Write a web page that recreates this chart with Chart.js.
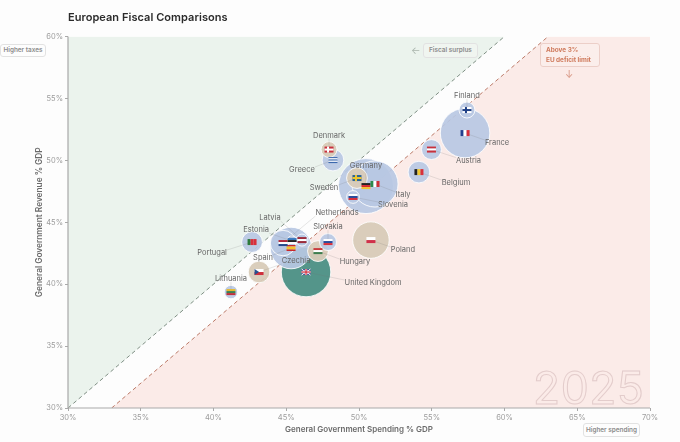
<!DOCTYPE html>
<html>
<head>
<meta charset="utf-8">
<title>European Fiscal Comparisons</title>
<script src="https://cdn.jsdelivr.net/npm/chart.js@4"></script>
<style>
  html, body { margin: 0; padding: 0; background: #fdfdfd; }
  body { width: 680px; height: 442px; position: relative; overflow: hidden; font-family: Inter, sans-serif; }
  canvas { position: absolute; left: 0; top: 0; }
  .title { position: absolute; left: 68px; top: 10px; font-size: 11px; font-weight: 600; color: #2b2b2b; letter-spacing: 0.05px; }
  .badge { position: absolute; box-sizing: border-box; border: 1px solid #e2e2e2; border-radius: 3px; background: #fdfdfd; color: #8c8c8c; font-size: 6.4px; font-weight: 600; text-align: center; }
  .arrow { position: absolute; font-size: 10px; line-height: 10px; }
  .year { position: absolute; left: 533px; top: 363px; font-size: 44.5px; line-height: 50px; font-weight: 400; color: transparent; -webkit-text-stroke: 1px #e3cccb; letter-spacing: 0.5px; }
</style>
</head>
<body>
<canvas id="chart" width="680" height="442"></canvas>
<div class="title">European Fiscal Comparisons</div>
<div class="badge" style="left:0;top:44px;width:46px;height:13px;line-height:11px">Higher taxes</div>
<div class="badge" style="left:583px;top:423px;width:57px;height:14px;line-height:12px">Higher spending</div>
<div class="badge" style="left:423px;top:43px;width:55px;height:15px;line-height:12px;background:#f0f5f0">Fiscal surplus</div>
<div class="arrow" style="left:411px;top:45px;color:#aab5ad">←</div>
<div class="badge" style="left:540px;top:43px;width:60px;height:24px;padding:2px 0 0 5px;line-height:9.5px;text-align:left;font-weight:700;color:#cf7a5c;border-color:#eccfc8;background:#fbeeeb">Above 3%<br>EU deficit limit</div>
<div class="arrow" style="left:565px;top:69px;color:#d99a88">↓</div>
<div class="year">2025</div>

<script>
// =====================
// DATA
// =====================
// largest first so the small bubbles stay on top
const countries = ["Germany", "France", "United Kingdom", "Italy", "Spain", "Poland", "Netherlands", "Belgium", "Sweden", "Czechia", "Greece", "Portugal", "Hungary", "Austria", "Denmark", "Finland", "Slovakia", "Lithuania", "Latvia", "Estonia", "Slovenia"];
const spending = [50.48, 57.29, 46.36, 51.1, 45.33, 50.82, 44.78, 54.12, 49.86, 43.13, 48.21, 42.65, 47.18, 54.98, 47.94, 57.42, 47.87, 41.2, 46.08, 45.4, 49.59];
const revenue = [47.92, 52.2, 40.98, 48.09, 42.92, 43.56, 43.32, 49.05, 48.57, 40.98, 50.02, 43.4, 42.67, 50.87, 50.87, 54.06, 43.4, 39.36, 43.56, 43.48, 47.04];
const population = [84, 68, 68, 59, 48, 37, 18, 13, 12, 13, 13, 12, 12, 11, 7, 7, 8, 5, 4, 3, 4.5];
const groups = ["euro", "euro", "noneu", "euro", "euro", "noneuro", "euro", "euro", "noneuro", "noneuro", "euro", "euro", "noneuro", "euro", "noneuro", "euro", "euro", "euro", "euro", "euro", "euro"];

const surplusLineX = [30, 60];
const surplusLineY = [30, 60];
const deficitLineX = [33, 63];
const deficitLineY = [30, 60];
const xTicks = [30, 35, 40, 45, 50, 55, 60, 65, 70];
const yTicks = [30, 35, 40, 45, 50, 55, 60];

// =====================
// STYLE TABLES
// =====================
const groupColors = {
  euro: "rgba(184, 200, 227, 0.92)",
  noneuro: "rgba(216, 203, 184, 0.95)",
  noneu: "rgba(78, 146, 134, 0.97)"
};

// label offset from the flag, pixels
const labelOffsets = {
  "Finland": [0, -14], "France": [32, 10], "Austria": [37, 11], "Belgium": [37, 11],
  "Germany": [0, -20], "Italy": [28, 11], "Sweden": [-33, 10], "Slovenia": [40, 8],
  "Denmark": [0, -14], "Greece": [-31, 10], "Poland": [32, 10], "United Kingdom": [67, 11],
  "Hungary": [37, 11], "Slovakia": [0, -15], "Netherlands": [54, -30], "Estonia": [-36, -11],
  "Latvia": [-32, -22], "Spain": [-28, 10], "Portugal": [-40, 11], "Czechia": [37, -11],
  "Lithuania": [0, -13]
};

// simple stripes; "v" = vertical bands, "h" = horizontal bands
const flags = {
  "Germany": ["h", "#222", "#d8262c", "#f2c230"], "France": ["v", "#23408f", "#fff", "#d8303c"],
  "United Kingdom": ["uk"], "Italy": ["v", "#2c8a4c", "#fff", "#cf3038"],
  "Spain": ["h", "#c8282c", "#f2c230", "#f2c230", "#c8282c"], "Poland": ["h", "#fff", "#d0304a"],
  "Netherlands": ["h", "#b0283a", "#fff", "#254a8c"], "Belgium": ["v", "#222", "#f2c92f", "#d8303c"],
  "Sweden": ["cross", "#2a6496", "#f0c72e"], "Czechia": ["cz"], "Greece": ["h", "#3b68ad", "#fff", "#3b68ad", "#fff", "#3b68ad"],
  "Portugal": ["v", "#2c7a3c", "#d8303c", "#d8303c"], "Hungary": ["h", "#c93a3c", "#fff", "#3d7f4e"],
  "Austria": ["h", "#c8303c", "#fff", "#c8303c"], "Denmark": ["cross", "#c8303c", "#fff"],
  "Finland": ["cross", "#fff", "#1e3f85"], "Slovakia": ["h", "#fff", "#2a4c9c", "#d8303c"],
  "Lithuania": ["h", "#e8b92e", "#3d7f4e", "#c0303a"], "Latvia": ["h", "#9c2c3c", "#fff", "#9c2c3c"],
  "Estonia": ["h", "#3a78bd", "#222", "#fff"], "Slovenia": ["h", "#fff", "#2a4c9c", "#d8303c"]
};

const FLAG_W = 9;
const FLAG_H = 6;

function drawFlag(ctx, name, cx, cy) {
  const spec = flags[name];
  const x = cx - FLAG_W / 2;
  const y = cy - FLAG_H / 2;
  const kind = spec[0];
  if (kind === "h" || kind === "v") {
    const bands = spec.slice(1);
    bands.forEach((color, i) => {
      ctx.fillStyle = color;
      if (kind === "h") ctx.fillRect(x, y + i * FLAG_H / bands.length, FLAG_W, FLAG_H / bands.length);
      else ctx.fillRect(x + i * FLAG_W / bands.length, y, FLAG_W / bands.length, FLAG_H);
    });
  } else if (kind === "cross") {
    ctx.fillStyle = spec[1];
    ctx.fillRect(x, y, FLAG_W, FLAG_H);
    ctx.fillStyle = spec[2];
    ctx.fillRect(x, cy - 1, FLAG_W, 2);
    ctx.fillRect(x + 2.5, y, 2, FLAG_H);
  } else if (kind === "cz") {
    ctx.fillStyle = "#fff";
    ctx.fillRect(x, y, FLAG_W, FLAG_H / 2);
    ctx.fillStyle = "#d0303c";
    ctx.fillRect(x, cy, FLAG_W, FLAG_H / 2);
    ctx.fillStyle = "#27508f";
    ctx.beginPath();
    ctx.moveTo(x, y);
    ctx.lineTo(x + 4.5, cy);
    ctx.lineTo(x, y + FLAG_H);
    ctx.fill();
  } else {
    ctx.fillStyle = "#2b3f86";
    ctx.fillRect(x, y, FLAG_W, FLAG_H);
    ctx.strokeStyle = "#fff";
    ctx.lineWidth = 1;
    ctx.beginPath();
    ctx.moveTo(x, y); ctx.lineTo(x + FLAG_W, y + FLAG_H);
    ctx.moveTo(x + FLAG_W, y); ctx.lineTo(x, y + FLAG_H);
    ctx.stroke();
    ctx.fillStyle = "#fff";
    ctx.fillRect(x, cy - 1.2, FLAG_W, 2.4);
    ctx.fillRect(cx - 1.2, y, 2.4, FLAG_H);
    ctx.fillStyle = "#cf2a3a";
    ctx.fillRect(x, cy - 0.6, FLAG_W, 1.2);
    ctx.fillRect(cx - 0.6, y, 1.2, FLAG_H);
  }
}

// =====================
// PLUGINS
// =====================
const axisLinesPlugin = {
  id: "axisLines",
  afterDatasetsDraw(chart) {
    const { ctx, chartArea: a } = chart;
    ctx.save();
    ctx.strokeStyle = "#a9a9a9";
    ctx.lineWidth = 1.2;
    ctx.beginPath();
    ctx.moveTo(a.left, a.top);
    ctx.lineTo(a.left, a.bottom);
    ctx.lineTo(a.right, a.bottom);
    ctx.stroke();
    ctx.restore();
  }
};

const flagLabelPlugin = {
  id: "flagLabels",
  afterDatasetsDraw(chart) {
    const { ctx, scales } = chart;
    ctx.save();
    countries.forEach((name, i) => {
      const px = scales.x.getPixelForValue(spending[i]);
      const py = scales.y.getPixelForValue(revenue[i]);
      const [dx, dy] = labelOffsets[name];
      ctx.strokeStyle = "rgba(110, 110, 110, 0.25)";
      ctx.lineWidth = 0.7;
      ctx.beginPath();
      ctx.moveTo(px, py);
      ctx.lineTo(px + dx - Math.sign(dx) * ctx.measureText(name).width / 2, py + dy - Math.sign(dy) * 3);
      ctx.stroke();
    });
    countries.forEach((name, i) => {
      drawFlag(ctx, name, scales.x.getPixelForValue(spending[i]), scales.y.getPixelForValue(revenue[i]));
    });
    ctx.font = "7.5px Inter, sans-serif";
    ctx.fillStyle = "#666";
    ctx.textAlign = "center";
    ctx.textBaseline = "middle";
    countries.forEach((name, i) => {
      const [dx, dy] = labelOffsets[name];
      ctx.fillText(name, scales.x.getPixelForValue(spending[i]) + dx, scales.y.getPixelForValue(revenue[i]) + dy);
    });
    ctx.restore();
  }
};

// =====================
// CHART
// =====================
function toPoints(xs, ys) {
  return xs.map((x, i) => ({ x: x, y: ys[i] }));
}

new Chart(document.getElementById("chart"), {
  type: "bubble",
  data: {
    datasets: [
      {
        type: "bubble",
        data: spending.map((x, i) => ({ x: x, y: revenue[i], r: 3 * Math.sqrt(population[i]) })),
        backgroundColor: groups.map(g => groupColors[g]),
        borderColor: "rgba(255, 255, 255, 0.85)",
        borderWidth: 1,
        order: 1
      },
      {
        type: "line",
        data: toPoints(surplusLineX, surplusLineY),
        borderColor: "#7f8f84",
        borderWidth: 1,
        borderDash: [4, 3],
        pointRadius: 0,
        fill: "end",
        backgroundColor: "#ebf3ed",
        order: 3
      },
      {
        type: "line",
        data: toPoints(deficitLineX.concat([70]), deficitLineY.concat([60])),
        borderWidth: 0,
        pointRadius: 0,
        fill: "start",
        backgroundColor: "#fbebe8",
        order: 3
      },
      {
        type: "line",
        data: toPoints(deficitLineX, deficitLineY),
        borderColor: "#bb7a68",
        borderWidth: 1,
        borderDash: [4, 3],
        pointRadius: 0,
        fill: false,
        order: 2
      }
    ]
  },
  options: {
    responsive: false,
    animation: false,
    events: [],
    layout: { padding: { left: 30, top: 36.5, right: 30, bottom: 8 } },
    plugins: { legend: { display: false }, tooltip: { enabled: false } },
    scales: {
      x: {
        type: "linear",
        min: 30,
        max: 70,
        afterFit(s) { s.height = 26; },
        afterBuildTicks(s) { s.ticks = xTicks.map(v => ({ value: v })); },
        border: { display: false },
        grid: { drawOnChartArea: false, color: "#a9a9a9", tickLength: 3 },
        ticks: { color: "#9c9c9c", font: { size: 7.5, family: "Inter" }, padding: 2, maxRotation: 0, callback: v => v + "%" },
        title: { display: true, text: "General Government Spending % GDP", color: "#6b6b6b", font: { size: 8, weight: "600", family: "Inter" }, padding: 0 }
      },
      y: {
        type: "linear",
        min: 30,
        max: 60,
        afterFit(s) { s.width = 38; },
        afterBuildTicks(s) { s.ticks = yTicks.map(v => ({ value: v })); },
        border: { display: false },
        grid: { drawOnChartArea: false, color: "#a9a9a9", tickLength: 3 },
        ticks: { color: "#9c9c9c", font: { size: 7.5, family: "Inter" }, padding: 2, callback: v => v + "%" },
        title: { display: true, text: "General Government Revenue % GDP", color: "#6b6b6b", font: { size: 8.3, weight: "600", family: "Inter" }, padding: 5 }
      }
    }
  },
  plugins: [axisLinesPlugin, flagLabelPlugin]
});
</script>
</body>
</html>
